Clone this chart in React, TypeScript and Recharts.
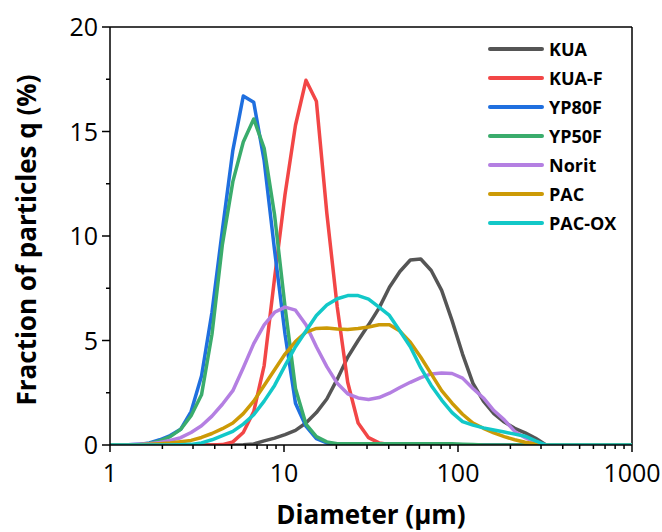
import React from 'react';
import { LineChart, Line, XAxis, YAxis, Legend, ReferenceLine } from 'recharts';

// Particle diameters (µm), log-spaced bins
const DIAMETERS = [
  1, 1.112, 1.276, 1.466, 1.683, 1.932, 2.218, 2.547, 2.924, 3.357, 3.855,
  4.426, 5.082, 5.834, 6.699, 7.691, 8.831, 10.14, 11.64, 13.37, 15.35,
  17.62, 20.23, 23.23, 26.67, 30.62, 35.16, 40.36, 46.35, 53.21, 61.09,
  70.15, 80.54, 92.47, 106.2, 121.9, 140.0, 160.7, 184.5, 211.8, 243.2,
  279.3, 320.6, 368.1, 1000,
];

const KUA = [
  0, 0, 0, 0, 0, 0, 0, 0, 0, 0, 0,
  0, 0, 0.01, 0.05, 0.2, 0.33, 0.5, 0.7, 1.05, 1.55,
  2.2, 3.15, 4.2, 5.0, 5.75, 6.55, 7.55, 8.3, 8.85, 8.9,
  8.35, 7.4, 5.95, 4.35, 2.95, 2.1, 1.5, 1.1, 0.8, 0.58,
  0.32, 0, 0, 0,
];

const KUA_F = [
  0, 0, 0, 0, 0, 0, 0, 0, 0, 0, 0,
  0.02, 0.15, 0.6, 1.6, 3.8, 8.0, 12.0, 15.3, 17.45, 16.45,
  11.1, 6.6, 3.0, 1.05, 0.35, 0.1, 0.02, 0, 0, 0,
  0, 0, 0, 0, 0, 0, 0, 0, 0, 0,
  0, 0, 0, 0,
];

const YP80F = [
  0, 0, 0.01, 0.03, 0.1, 0.25, 0.45, 0.75, 1.6, 3.3, 6.35,
  10.3, 14.1, 16.7, 16.4, 13.6, 9.3, 5.3, 2.0, 0.9, 0.3,
  0.1, 0.03, 0, 0, 0, 0, 0, 0, 0, 0,
  0, 0, 0, 0, 0, 0, 0, 0, 0, 0,
  0, 0, 0, 0,
];

const YP50F = [
  0, 0, 0.01, 0.02, 0.07, 0.2, 0.4, 0.75, 1.4, 2.4, 5.3,
  9.6, 12.6, 14.5, 15.6, 14.2, 11.0, 6.6, 2.7, 1.0, 0.4,
  0.15, 0.06, 0.06, 0.06, 0.06, 0.06, 0.06, 0.06, 0.06, 0.06,
  0.06, 0.06, 0.06, 0.04, 0.02, 0, 0, 0, 0, 0,
  0, 0, 0, 0,
];

const NORIT = [
  0, 0, 0.01, 0.03, 0.06, 0.12, 0.22, 0.35, 0.6, 0.92, 1.38,
  1.95, 2.6, 3.7, 4.85, 5.75, 6.35, 6.6, 6.45, 5.75, 4.7,
  3.75, 2.95, 2.45, 2.25, 2.18, 2.27, 2.48, 2.75, 3.0, 3.22,
  3.4, 3.45, 3.42, 3.2, 2.7, 2.25, 1.65, 1.2, 0.65, 0.35,
  0.12, 0, 0, 0,
];

const PAC = [
  0, 0, 0, 0.01, 0.03, 0.06, 0.1, 0.16, 0.22, 0.36, 0.55,
  0.78, 1.05, 1.5, 2.1, 2.85, 3.6, 4.35, 4.95, 5.4, 5.58,
  5.6, 5.55, 5.53, 5.57, 5.65, 5.75, 5.75, 5.45, 4.92, 4.2,
  3.4, 2.6, 2.0, 1.47, 1.05, 0.8, 0.58, 0.4, 0.25, 0.13,
  0.05, 0, 0, 0,
];

const PAC_OX = [
  0, 0, 0, 0, 0, 0, 0, 0.01, 0.03, 0.1, 0.25,
  0.45, 0.65, 1.0, 1.45, 2.1, 2.85, 3.8, 4.7, 5.45, 6.2,
  6.7, 7.0, 7.15, 7.15, 6.98, 6.6, 6.2, 5.45, 4.7, 3.7,
  2.85, 2.15, 1.55, 1.12, 0.95, 0.82, 0.72, 0.62, 0.52, 0.42,
  0.2, 0, 0, 0,
];

const SERIES = [
  { key: 'KUA', color: '#555555', values: KUA },
  { key: 'KUA-F', color: '#f24646', values: KUA_F },
  { key: 'YP80F', color: '#1f6fdf', values: YP80F },
  { key: 'YP50F', color: '#3aac6c', values: YP50F },
  { key: 'Norit', color: '#b47fe2', values: NORIT },
  { key: 'PAC', color: '#cc9a06', values: PAC },
  { key: 'PAC-OX', color: '#12c8c8', values: PAC_OX },
];

const X_MAJOR = [1, 10, 100, 1000];
const X_TICKS = [
  1, 2, 3, 4, 5, 6, 7, 8, 9,
  10, 20, 30, 40, 50, 60, 70, 80, 90,
  100, 200, 300, 400, 500, 600, 700, 800, 900,
  1000,
];
const Y_MAJOR = [0, 5, 10, 15, 20];
const Y_TICKS = [0, 2.5, 5, 7.5, 10, 12.5, 15, 17.5, 20];

const data = DIAMETERS.map((d, i) => {
  const row: Record<string, number> = { d };
  SERIES.forEach((s) => {
    row[s.key] = s.values[i];
  });
  return row;
});

const FONT = '"Open Sans", "DejaVu Sans", sans-serif';

const XTick = (props: any) => {
  const { x, y, payload } = props;
  const major = X_MAJOR.includes(payload.value);
  return (
    <g>
      <line x1={x} x2={x} y1={y} y2={y + (major ? 7 : 4)} stroke="#000" strokeWidth={1.5} />
      {major && (
        <text x={x} y={y + 37} textAnchor="middle" fontFamily={FONT} fontSize={25} fill="#000">
          {payload.value}
        </text>
      )}
    </g>
  );
};

const YTick = (props: any) => {
  const { x, y, payload } = props;
  const major = Y_MAJOR.includes(payload.value);
  return (
    <g>
      <line x1={x - (major ? 8 : 4)} x2={x} y1={y} y2={y} stroke="#000" strokeWidth={1.5} />
      {major && (
        <text x={x - 12} y={y} dy="0.36em" textAnchor="end" fontFamily={FONT} fontSize={25} fill="#000">
          {payload.value}
        </text>
      )}
    </g>
  );
};

const XTitle = (props: any) => {
  const vb = props.viewBox;
  return (
    <text
      x={vb.x + vb.width / 2}
      y={vb.y + 79}
      textAnchor="middle"
      fontFamily={FONT}
      fontWeight="bold"
      fontSize={26}
      fill="#000"
    >
      Diameter (µm)
    </text>
  );
};

const YTitle = (props: any) => {
  const vb = props.viewBox;
  const cx = vb.x - 4;
  const cy = vb.y + vb.height / 2 + 4;
  return (
    <text
      x={cx}
      y={cy}
      transform={`rotate(-90, ${cx}, ${cy})`}
      textAnchor="middle"
      fontFamily={FONT}
      fontWeight="bold"
      fontSize={26}
      fill="#000"
    >
      Fraction of particles q (%)
    </text>
  );
};

const LegendBox = () => (
  <div style={{ fontFamily: FONT }}>
    {SERIES.map((s) => (
      <div key={s.key} style={{ display: 'flex', alignItems: 'center', height: 29 }}>
        <div style={{ width: 56, height: 4, borderRadius: 2, background: s.color, marginRight: 5 }} />
        <span style={{ fontSize: 18, fontWeight: 'bold', color: '#000', lineHeight: '29px' }}>{s.key}</span>
      </div>
    ))}
  </div>
);

export default function App() {
  return (
    <div style={{ position: 'absolute', left: 0, top: 0, background: '#fff' }}>
      <LineChart width={662} height={532} data={data} margin={{ top: 27, right: 30, bottom: 27, left: 40 }}>
        <XAxis
          dataKey="d"
          type="number"
          scale="log"
          domain={[1, 1000]}
          ticks={X_TICKS}
          interval={0}
          height={60}
          tickSize={0}
          tickMargin={0}
          tick={<XTick />}
          axisLine={{ stroke: '#000', strokeWidth: 1.5 }}
          allowDataOverflow
          label={{ content: <XTitle /> }}
        />
        <YAxis
          type="number"
          domain={[0, 20]}
          ticks={Y_TICKS}
          interval={0}
          width={70}
          tickSize={0}
          tickMargin={0}
          tick={<YTick />}
          axisLine={{ stroke: '#000', strokeWidth: 1.5 }}
          allowDataOverflow
          label={{ content: <YTitle /> }}
        />
        <ReferenceLine y={20} stroke="#000" strokeWidth={1.5} />
        <ReferenceLine x={1000} stroke="#000" strokeWidth={1.5} />
        {SERIES.map((s) => (
          <Line
            key={s.key}
            dataKey={s.key}
            name={s.key}
            type="linear"
            stroke={s.color}
            strokeWidth={3.5}
            strokeLinejoin="round"
            dot={false}
            activeDot={false}
            isAnimationActive={false}
          />
        ))}
        <Legend
          layout="vertical"
          align="center"
          verticalAlign="middle"
          content={<LegendBox />}
          wrapperStyle={{ left: 488, top: 34.5, width: 'auto', height: 'auto' }}
        />
      </LineChart>
    </div>
  );
}
